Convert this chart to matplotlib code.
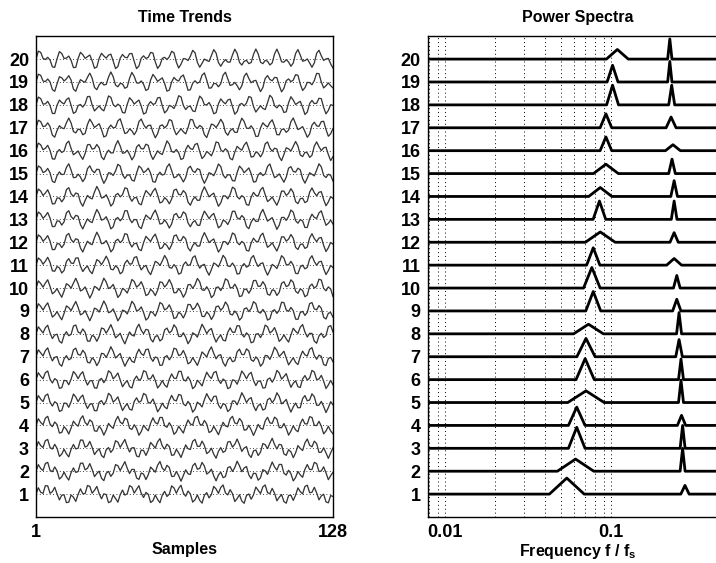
import numpy as np
import matplotlib.pyplot as plt

plt.rcParams['font.family'] = ['Liberation Sans', 'DejaVu Sans']

channels = np.arange(1, 21)
n_samples = 128

# main spectral peak per channel: frequency (f/fs), height, half width (decades)
f1 = [0.054, 0.061, 0.062, 0.062, 0.0705, 0.0697, 0.0705, 0.073, 0.078, 0.0765,
      0.078, 0.086, 0.085, 0.086, 0.093, 0.093, 0.093, 0.102, 0.102, 0.109]
h1 = [0.70, 0.53, 0.92, 0.80, 0.51, 0.92, 0.80, 0.42, 0.85, 0.90,
      0.76, 0.45, 0.80, 0.39, 0.41, 0.60, 0.61, 0.86, 0.73, 0.42]
w1 = [0.105, 0.11, 0.05, 0.05, 0.11, 0.055, 0.055, 0.09, 0.045, 0.05,
      0.04, 0.09, 0.038, 0.07, 0.075, 0.035, 0.035, 0.036, 0.033, 0.066]
# second (higher) peak per channel
f2 = [0.279, 0.270, 0.270, 0.266, 0.264, 0.264, 0.257, 0.257, 0.249, 0.249,
      0.240, 0.240, 0.240, 0.240, 0.233, 0.236, 0.230, 0.232, 0.226, 0.226]
h2 = [0.38, 1.00, 1.00, 0.44, 0.98, 0.90, 0.75, 0.93, 0.51, 0.55,
      0.29, 0.42, 0.80, 0.69, 0.63, 0.26, 0.47, 0.86, 0.90, 0.88]
w2 = [0.025, 0.015, 0.015, 0.025, 0.015, 0.015, 0.02, 0.015, 0.025, 0.02,
      0.045, 0.025, 0.017, 0.02, 0.02, 0.045, 0.03, 0.018, 0.013, 0.013]

grid_freqs = [0.008, 0.009, 0.01, 0.02, 0.03, 0.04, 0.05, 0.06, 0.07, 0.08, 0.09, 0.1]

fig = plt.figure(figsize=(7.16, 5.63), dpi=100)
ax1 = fig.add_axes([0.0503, 0.0817, 0.4148, 0.854])
ax2 = fig.add_axes([0.5973, 0.0817, 0.418, 0.854])

# time trends
t = np.arange(1, n_samples + 1)
for k, a, b in zip(channels, f1, f2):
    ax1.axhline(k, color='k', lw=0.6, ls=(0, (1, 3)))
    sig = k + 0.24 * np.sin(2 * np.pi * a * (t - 1)) + 0.2 * np.sin(2 * np.pi * b * (t - 1))
    ax1.plot(t, sig, color='0.45', lw=1.0)
    ax1.plot(t, sig, color='k', lw=0.5, alpha=0.7)

ax1.set_xlim(1, 128)
ax1.set_ylim(0, 21)
ax1.set_xticks([1, 128])
ax1.set_yticks(channels)
ax1.set_title('Time Trends', fontsize=11.5, fontweight='bold', pad=10)
ax1.set_xlabel('Samples', fontsize=11.5, fontweight='bold', labelpad=1)

# power spectra
for g in grid_freqs:
    ax2.axvline(g, color='k', lw=0.7, ls=(0, (1, 3)))
for k in range(20):
    xs = [1 / 128, f1[k] * 10 ** -w1[k], f1[k], f1[k] * 10 ** w1[k],
          f2[k] * 10 ** -w2[k], f2[k], f2[k] * 10 ** w2[k], 0.5]
    ys = channels[k] + np.array([0, 0, h1[k], 0, 0, h2[k], 0, 0])
    ax2.plot(xs, ys, color='k', lw=2.0)

ax2.set_xscale('log')
ax2.set_xlim(1 / 128, 0.5)
ax2.set_ylim(0, 21)
ax2.set_xticks([0.01, 0.1])
ax2.set_xticklabels(['0.01', '0.1'])
ax2.minorticks_off()
ax2.set_yticks(channels)
ax2.set_title('Power Spectra', fontsize=11.5, fontweight='bold', pad=10)
ax2.set_xlabel('Frequency f / f$_\\mathregular{s}$', fontsize=11.5,
               fontweight='bold', labelpad=1)

for ax in (ax1, ax2):
    ax.tick_params(length=0, labelsize=13, pad=5)
    for lab in ax.get_xticklabels() + ax.get_yticklabels():
        lab.set_fontweight('bold')
    for s in ax.spines.values():
        s.set_linewidth(1.0)

fig.savefig('out.png', dpi=100)
